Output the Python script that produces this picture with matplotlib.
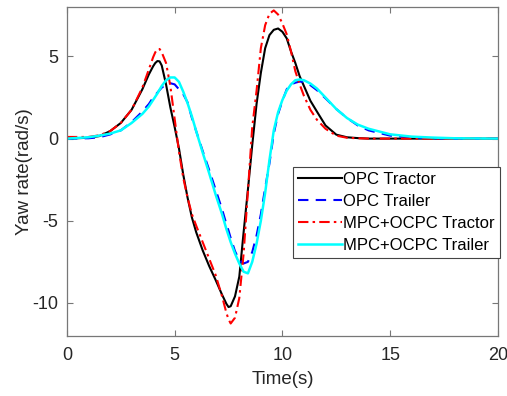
import matplotlib
matplotlib.use("Agg")
import matplotlib.pyplot as plt

plt.rcParams['font.family'] = ['Liberation Sans', 'DejaVu Sans']
plt.rcParams['axes.unicode_minus'] = False

# time samples (s)
t = [0, 1, 1.5, 2, 2.5, 3, 3.5, 3.8, 4.0, 4.1, 4.2, 4.3, 4.4, 4.6, 4.8, 5.0, 5.2, 5.4, 5.6,
     5.8, 6.0, 6.3, 6.6, 6.9, 7.2, 7.4, 7.5, 7.6, 7.8, 8.0, 8.2, 8.4, 8.6, 8.8, 9.0, 9.2,
     9.4, 9.6, 9.8, 10.0, 10.2, 10.4, 10.6, 10.8, 11.0, 11.3, 11.6, 12.0, 12.5, 13.0,
     13.5, 14, 15, 16, 17, 18, 20]

opc_tractor = [0.0, 0.05, 0.15, 0.45, 0.95, 1.75, 3.0, 3.9, 4.4, 4.6, 4.72, 4.7, 4.45, 3.3,
               1.9, 0.7, -0.6, -2.2, -3.6, -4.8, -5.7, -6.8, -7.75, -8.6, -9.5, -10.05,
               -10.25, -10.2, -9.6, -8.4, -5.7, -3.1, -0.4, 2.1, 4.0, 5.5, 6.3, 6.62, 6.7,
               6.5, 6.1, 5.3, 4.6, 3.8, 3.2, 2.3, 1.65, 0.8, 0.24, 0.08, 0.03, 0.0, 0.0,
               0.0, 0.0, 0.0, 0.0]

opc_trailer = [0.0, 0.02, 0.08, 0.25, 0.5, 1.0, 1.65, 2.1, 2.5, 2.65, 2.8, 2.95, 3.1, 3.3,
               3.37, 3.3, 3.0, 2.7, 2.2, 1.25, 0.45, -0.75, -1.9, -3.1, -4.3, -5.2, -5.6,
               -6.05, -6.85, -7.4, -7.6, -7.5, -6.9, -5.9, -4.6, -3.0, -1.5, 0.3, 1.5, 2.3,
               3.0, 3.3, 3.4, 3.47, 3.45, 3.25, 2.95, 2.45, 1.8, 1.25, 0.8, 0.5, 0.18,
               0.06, 0.02, 0.0, 0.0]

mpc_tractor = [0.1, 0.1, 0.2, 0.45, 0.95, 1.75, 3.1, 4.2, 4.95, 5.25, 5.45, 5.45, 5.25,
               4.6, 3.2, 1.2, -0.8, -2.4, -3.6, -4.6, -5.3, -6.3, -7.3, -8.3, -9.6,
               -10.6, -11.0, -11.25, -10.9, -9.7, -7.0, -3.2, 0.7, 2.9, 5.5, 6.9, 7.6,
               7.8, 7.55, 7.0, 6.35, 5.3, 4.1, 3.3, 2.6, 1.75, 1.15, 0.6, 0.18, 0.05, 0.02,
               0.0, 0.0, 0.0, 0.0, 0.0, 0.0]

mpc_trailer = [0.0, 0.08, 0.18, 0.3, 0.5, 0.95, 1.5, 1.95, 2.35, 2.55, 2.75, 2.98, 3.2,
               3.55, 3.72, 3.72, 3.45, 2.85, 2.15, 1.35, 0.45, -0.85, -2.1, -3.4, -4.6,
               -5.5, -5.9, -6.3, -7.0, -7.6, -8.1, -8.2, -7.5, -6.4, -5.0, -3.3, -1.3, 0.5,
               1.6, 2.35, 2.92, 3.3, 3.55, 3.6, 3.55, 3.35, 3.05, 2.5, 1.8, 1.25, 0.85,
               0.6, 0.26, 0.12, 0.06, 0.02, 0.0]

labels = ["OPC Tractor", "OPC Trailer", "MPC+OCPC Tractor", "MPC+OCPC Trailer"]

fig = plt.figure(figsize=(5.07, 3.96), dpi=100)
ax = fig.add_axes([0.132, 0.152, 0.850, 0.830])

ax.plot(t, opc_tractor, color='black', lw=1.5, label=labels[0])
ax.plot(t, opc_trailer, color='blue', lw=1.5, ls=(0, (5, 3.5)), label=labels[1])
ax.plot(t, mpc_tractor, color='red', lw=1.5, ls=(0, (5, 2, 1.2, 2)), label=labels[2])
ax.plot(t, mpc_trailer, color='cyan', lw=1.8, label=labels[3])

ax.set_xlim(0, 20)
ax.set_ylim(-12, 8)
ax.set_xticks([0, 5, 10, 15, 20])
ax.set_yticks([-10, -5, 0, 5])
ax.tick_params(direction='in', top=True, right=True, labelsize=13,
               colors='#777777', labelcolor='#262626', length=4)
ax.tick_params(axis='x', pad=8)
ax.tick_params(axis='y', pad=6)
for s in ax.spines.values():
    s.set_color('#777777')
    s.set_linewidth(0.9)

ax.set_xlabel("Time(s)", fontsize=13.5, color='#262626', labelpad=5)
ax.set_ylabel("Yaw rate(rad/s)", fontsize=13.5, color='#262626', labelpad=0)

leg = ax.legend(loc='upper right', bbox_to_anchor=(1.005, 0.514), borderaxespad=0,
                fontsize=12, handlelength=2.6, handletextpad=0.1, labelspacing=0.42,
                borderpad=0.3, fancybox=False, framealpha=1)
leg.get_frame().set_edgecolor('#444444')
leg.get_frame().set_linewidth(0.8)

fig.savefig("out.png", dpi=100)
